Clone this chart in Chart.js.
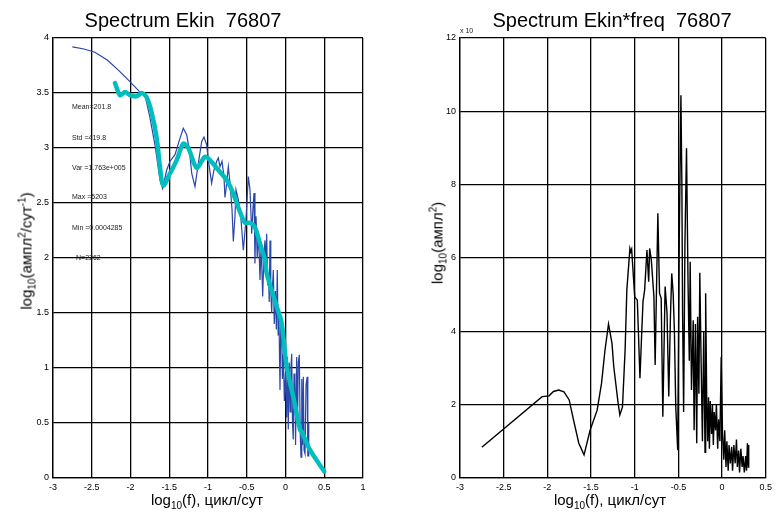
<!DOCTYPE html>
<html lang="ru">
<head>
<meta charset="UTF-8">
<title>Spectrum Ekin 76807</title>
<style>
  body { margin: 0; background: #fff; font-family: Arial, "Liberation Sans", sans-serif; }
  #page { position: relative; width: 776px; height: 512px; overflow: hidden; }
  canvas { position: absolute; top: 0; }
  .txt { position: absolute; white-space: pre; color: #000; line-height: 1; }
  .title { font-size: 20px; top: 10px; transform: translateX(-50%); }
  .xlab { font-size: 15px; top: 492px; transform: translateX(-50%); }
  .ylab { font-size: 15px; transform: translate(-50%, -50%) rotate(-90deg); }
  .stat { font-size: 7px; color: #222; transform: translateY(-50%); }
  .small { font-size: 7px; color: #222; }
  sub, sup { font-size: 10px; line-height: 0; }
</style>
</head>
<body>
<div id="page">
  <canvas id="leftChart" width="390" height="512" style="left:0"></canvas>
  <canvas id="rightChart" width="386" height="512" style="left:390px"></canvas>

  <div class="txt title" style="left:183px">Spectrum Ekin  76807</div>
  <div class="txt xlab" style="left:207px">log<sub>10</sub>(f), цикл/сут</div>
  <div class="txt ylab" style="left:26px; top:251px">log<sub>10</sub>(ампл<sup>2</sup>/сут<sup>-1</sup>)</div>

  <div class="txt stat" style="left:72px; top:106px">Mean=201.8</div>
  <div class="txt stat" style="left:72px; top:137px">Std =419.8</div>
  <div class="txt stat" style="left:72px; top:167px">Var =1.763e+005</div>
  <div class="txt stat" style="left:72px; top:196px">Max =5203</div>
  <div class="txt stat" style="left:72px; top:227px">Min =0.0004285</div>
  <div class="txt stat" style="left:76px; top:257px">N=2262</div>

  <div class="txt small" style="left:460px; top:27px">x 10</div>
  <div class="txt title" style="left:612px">Spectrum Ekin*freq  76807</div>
  <div class="txt xlab" style="left:610px">log<sub>10</sub>(f), цикл/сут</div>
  <div class="txt ylab" style="left:437px; top:243px">log<sub>10</sub>(ампл<sup>2</sup>)</div>
</div>

<script src="https://cdn.jsdelivr.net/npm/chart.js@4.4.1/dist/chart.umd.min.js"></script>
<script>
// left panel: raw spectrum (thin blue) and smoothed spectrum (thick cyan)
const spectrumX = [-2.75, -2.6, -2.46, -2.3, -2.16, -2.03, -1.88, -1.81, -1.75, -1.68, -1.62, -1.585,
    -1.533, -1.49, -1.426, -1.37, -1.319, -1.275, -1.24, -1.21, -1.168, -1.125, -1.081, -1.052, -1.017,
    -0.996, -0.953, -0.923, -0.888, -0.867, -0.845, -0.819, -0.794, -0.781, -0.768, -0.738, -0.716,
    -0.69, -0.673, -0.652, -0.639, -0.609, -0.574, -0.544, -0.51, -0.48, -0.458, -0.436, -0.42, -0.406,
    -0.394, -0.385, -0.38, -0.365, -0.35, -0.34, -0.329, -0.316, -0.305, -0.294, -0.28, -0.265, -0.255,
    -0.243, -0.23, -0.22, -0.21, -0.2, -0.19, -0.178, -0.167, -0.157, -0.145, -0.13, -0.118, -0.106,
    -0.095, -0.085, -0.071, -0.06, -0.05, -0.04, -0.028, -0.015, 0.0, 0.015, 0.025, 0.036, 0.048, 0.06,
    0.07, 0.08, 0.09, 0.1, 0.11, 0.12, 0.13, 0.144, 0.155, 0.165, 0.178, 0.19, 0.2, 0.21, 0.22, 0.23,
    0.24, 0.252, 0.265, 0.28, 0.288, 0.295, 0.3];
const spectrumY = [3.92, 3.9, 3.87, 3.8, 3.71, 3.62, 3.51, 3.47, 3.28, 3.01, 2.71, 2.63,
    2.8, 2.88, 2.94, 3.07, 3.18, 3.12, 2.98, 2.77, 2.65, 2.86, 3.06, 3.1, 3.03,
    2.89, 2.68, 2.8, 2.88, 2.91, 2.83, 2.88, 2.74, 2.55, 2.62, 2.83, 2.68,
    2.44, 2.15, 2.38, 2.62, 2.53, 2.35, 2.07, 2.35, 2.74, 2.62, 2.22, 2.45, 2.59,
    1.95, 2.3, 2.38, 2.0, 2.22, 2.05, 1.8, 2.1, 1.9, 1.65, 2.0, 2.16, 1.9,
    2.22, 1.75, 1.85, 1.6, 2.16, 1.7, 1.5, 1.75, 1.89, 1.4, 1.7, 1.35, 1.89,
    1.3, 1.5, 0.8, 1.45, 1.35, 0.9, 1.13, 0.7, 0.95, 0.55, 1.1, 0.44, 1.05, 0.6,
    1.0, 1.13, 0.5, 0.35, 0.95, 0.9, 0.3, 1.1, 0.5, 1.05, 1.12, 0.4, 0.19, 0.9, 0.3, 0.92,
    0.25, 0.22, 0.85, 0.92, 0.2, 0.2, 0.5];

const smoothX = [-2.2, -2.135, -2.07, -2.006, -1.92, -1.856, -1.79, -1.726, -1.66, -1.62, -1.577,
    -1.49, -1.404, -1.319, -1.254, -1.146, -1.039, -0.974, -0.867, -0.759, -0.694, -0.63, -0.565,
    -0.523, -0.458, -0.394, -0.329, -0.265, -0.243, -0.114, -0.05, 0.015, 0.1, 0.187, 0.21, 0.316, 0.5];
const smoothY = [3.59, 3.48, 3.51, 3.48, 3.47, 3.5, 3.46, 3.32, 3.08, 2.83, 2.66,
    2.77, 2.89, 3.04, 3.0, 2.82, 2.92, 2.89, 2.8, 2.71, 2.62, 2.5, 2.38,
    2.32, 2.32, 2.28, 2.13, 1.98, 1.86, 1.56, 1.41, 1.01, 0.74, 0.44, 0.42, 0.255, 0.06];

// right panel: spectrum multiplied by frequency (units of 10^4)
const freqX = [-2.75, -2.06, -1.98, -1.93, -1.87, -1.81, -1.75, -1.7, -1.64, -1.58, -1.51, -1.43,
    -1.38, -1.34, -1.3, -1.26, -1.24, -1.19, -1.17, -1.14, -1.11, -1.09, -1.055, -1.045, -1.035,
    -1.0, -0.97, -0.94, -0.92, -0.905, -0.886, -0.86, -0.84, -0.829, -0.81, -0.78, -0.766, -0.735,
    -0.716, -0.697, -0.678, -0.652, -0.63, -0.61, -0.591, -0.576, -0.56, -0.546, -0.53, -0.508,
    -0.49, -0.471, -0.46, -0.452, -0.44, -0.425, -0.407, -0.39, -0.375, -0.365, -0.35, -0.33, -0.32,
    -0.305, -0.29, -0.28, -0.265, -0.255, -0.24, -0.225, -0.21, -0.195, -0.188, -0.175, -0.165,
    -0.155, -0.145, -0.135, -0.12, -0.11, -0.1, -0.09, -0.075, -0.065, -0.05, -0.04, -0.025, -0.01,
    0.005, 0.02, 0.03, 0.045, 0.055, 0.07, 0.08, 0.095, 0.11, 0.12, 0.135, 0.15, 0.165, 0.175, 0.19,
    0.2, 0.215, 0.23, 0.24, 0.255, 0.27, 0.28, 0.29, 0.3, 0.305];
const freqY = [0.84, 2.22, 2.24, 2.36, 2.4, 2.35, 2.13, 1.58, 0.95, 0.63, 1.31, 1.85,
    2.58, 3.49, 4.2, 3.67, 3.04, 2.04, 1.72, 1.94, 3.49, 5.13, 6.26, 6.17, 6.24,
    4.94, 4.85, 2.72, 3.95, 4.81, 5.13, 6.22, 5.35, 6.26, 5.95, 4.94, 3.08, 7.22,
    5.04, 4.9, 1.67, 5.22, 4.49, 2.22, 4.4, 5.58, 5.04, 4.04, 1.94, 0.76,
    6.5, 10.44, 8.0, 4.5, 1.8, 6.4, 8.99, 5.4, 3.2, 5.9, 2.4, 4.3, 1.3,
    4.2, 0.95, 4.4, 2.3, 5.6, 3.2, 1.0, 4.0, 0.7, 5.04, 2.0, 1.0,
    2.2, 0.8, 2.1, 1.2, 2.0, 0.9, 1.8, 1.3, 2.0, 0.8, 1.6, 1.0, 3.3,
    1.2, 0.5, 1.3, 0.3, 1.0, 0.2, 0.9, 0.4, 0.85, 0.2, 0.9, 0.4, 1.05, 0.3, 0.75,
    0.15, 0.8, 0.3, 0.6, 0.15, 0.6, 0.2, 0.95, 0.3, 0.9];

const FONT = 'Arial, "Liberation Sans", sans-serif';

function toPoints(xs, ys) {
    return xs.map((x, i) => ({ x: x, y: ys[i] }));
}

function axis(min, max, step, size, horizontal) {
    return {
        type: 'linear',
        min: min,
        max: max,
        ticks: {
            stepSize: step, color: '#000', font: { size: 9, family: FONT }, padding: 4,
            autoSkip: false, maxRotation: 0,
            // matlab style: 4, 3.5, -3 (no trailing .0)
            callback: v => String(Math.round(v * 100) / 100)
        },
        grid: { color: '#000', lineWidth: 1.3, drawTicks: false },
        border: { color: '#000', width: 1.3 },
        afterFit: function(scale) {
            if (horizontal) scale.height = size; else scale.width = size;
        }
    };
}

function options(padRight, yWidth, xMin, xMax, xStep, yMin, yMax, yStep) {
    return {
        responsive: false,
        animation: false,
        layout: { padding: { left: 0, top: 38, right: padRight, bottom: 0 } },
        plugins: { legend: { display: false }, title: { display: false }, tooltip: { enabled: false } },
        scales: {
            x: axis(xMin, xMax, xStep, 34, true),
            y: axis(yMin, yMax, yStep, yWidth, false)
        }
    };
}

new Chart(document.getElementById('leftChart'), {
    type: 'scatter',
    data: {
        datasets: [{
            data: toPoints(smoothX, smoothY),
            showLine: true, borderColor: 'rgb(0,190,190)', borderWidth: 4.5,
            pointRadius: 0, tension: 0.3, order: 0, borderCapStyle: 'round', borderJoinStyle: 'round'
        }, {
            data: toPoints(spectrumX, spectrumY),
            showLine: true, borderColor: '#2946a8', borderWidth: 1.2,
            pointRadius: 0, tension: 0, order: 1
        }]
    },
    options: options(27, 53, -3, 1, 0.5, 0, 4, 0.5)
});

new Chart(document.getElementById('rightChart'), {
    type: 'scatter',
    data: {
        datasets: [{
            data: toPoints(freqX, freqY),
            showLine: true, borderColor: '#000', borderWidth: 1.4,
            pointRadius: 0, tension: 0
        }]
    },
    options: options(7, 70, -3, 0.5, 0.5, 0, 12, 2)
});
</script>
</body>
</html>
